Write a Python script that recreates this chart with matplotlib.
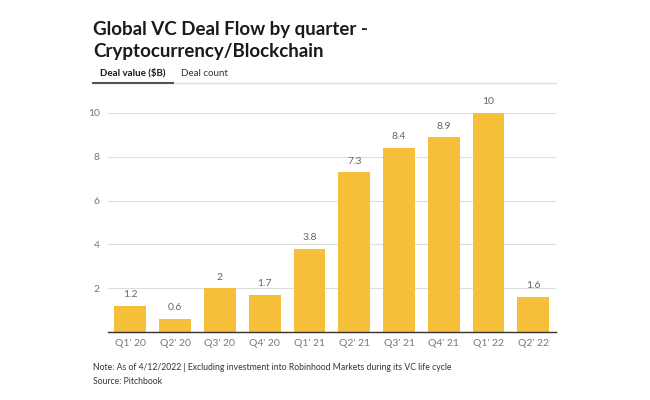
import matplotlib.pyplot as plt

plt.rcParams['font.family'] = ['Lato', 'DejaVu Sans']

# Data
quarters = ["Q1' 20", "Q2' 20", "Q3' 20", "Q4' 20", "Q1' 21",
            "Q2' 21", "Q3' 21", "Q4' 21", "Q1' 22", "Q2' 22"]
deal_value = [1.2, 0.6, 2, 1.7, 3.8, 7.3, 8.4, 8.9, 10, 1.6]
value_labels = ['1.2', '0.6', '2', '1.7', '3.8', '7.3', '8.4', '8.9', '10', '1.6']
y_ticks = [2, 4, 6, 8, 10]

fig = plt.figure(figsize=(6.5, 4), dpi=100)
ax = fig.add_axes([0.166, 0.17, 0.689, 0.5475])

x = range(len(quarters))
ax.bar(x, deal_value, width=0.71, color='#F5BF3A', zorder=2)

# value labels above bars
for i, v in enumerate(deal_value):
    ax.text(i, v + 0.3, value_labels[i], ha='center', va='bottom',
            fontsize=7.5, color='#666666', clip_on=False)

ax.set_xlim(-0.5, 9.5)
ax.set_ylim(0, 10)
ax.set_yticks(y_ticks)
ax.set_xticks(list(x))
ax.set_xticklabels(quarters)
ax.tick_params(axis='both', length=0, labelsize=7.5, labelcolor='#777777')
ax.tick_params(axis='x', pad=5)
ax.tick_params(axis='y', pad=6)
ax.grid(axis='y', color='#dddddd', linewidth=0.8, zorder=0)
for s in ['top', 'right', 'left']:
    ax.spines[s].set_visible(False)
ax.spines['bottom'].set_color('#333333')
ax.spines['bottom'].set_linewidth(1)
ax.spines['bottom'].set_zorder(3)

# Title and tabs
fig.text(93 / 650, 1 - 30 / 400, 'Global VC Deal Flow by quarter -',
         fontsize=13.5, fontweight='bold', color='#1a1a1a', va='center')
fig.text(93 / 650, 1 - 51 / 400, 'Cryptocurrency/Blockchain',
         fontsize=13.5, fontweight='bold', color='#1a1a1a', va='center')
fig.text(100 / 650, 1 - 73 / 400, 'Deal value ($B)', fontsize=7,
         fontweight='bold', color='#1a1a1a', va='center')
fig.text(181 / 650, 1 - 73 / 400, 'Deal count', fontsize=7,
         color='#333333', va='center')
fig.add_artist(plt.Line2D([93 / 650, 556 / 650], [1 - 83 / 400, 1 - 83 / 400],
                          color='#e0e0e0', linewidth=1))
fig.add_artist(plt.Line2D([93 / 650, 173 / 650], [1 - 83 / 400, 1 - 83 / 400],
                          color='#555555', linewidth=1.5))

# Notes
fig.text(93 / 650, 1 - 367 / 400,
         'Note: As of 4/12/2022 | Excluding investment into Robinhood Markets during its VC life cycle',
         fontsize=6.2, color='#333333', va='center')
fig.text(93 / 650, 1 - 382 / 400, 'Source: Pitchbook', fontsize=6.2,
         color='#333333', va='center')

fig.savefig('out.png', dpi=100)
